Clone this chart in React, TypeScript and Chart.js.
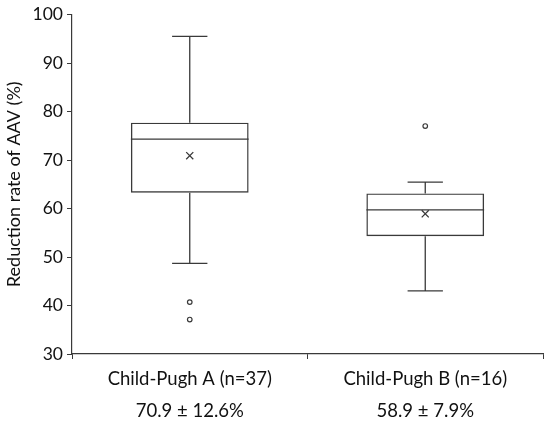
import React, { useEffect, useRef } from "react";
import { Chart, registerables } from "chart.js";

Chart.register(...registerables);

const categories = ["Child-Pugh A (n=37)", "Child-Pugh B (n=16)"];
const subLabels = ["70.9 ± 12.6%", "58.9 ± 7.9%"];
const whiskerLow = [48.7, 43.0];
const q1 = [63.25, 54.3];
const median = [74.3, 59.7];
const q3 = [77.7, 63.1];
const whiskerHigh = [95.5, 65.45];
const means = [70.9, 58.9];
const outliersA = [40.7, 37.1];
const outliersB = [77.0];
const yTicks = [30, 40, 50, 60, 70, 80, 90, 100];

const LINE = "#3a3a3a";
const FONT = "Lato, 'Open Sans', sans-serif";

const boxPlugin = {
  id: "boxWhiskers",
  afterDatasetsDraw(chart: any) {
    const ctx = chart.ctx;
    const x = chart.scales.x;
    const y = chart.scales.y;
    const meta = chart.getDatasetMeta(0);
    ctx.save();
    ctx.strokeStyle = LINE;
    ctx.lineWidth = 1.3;
    categories.forEach((_, i) => {
      const bar = meta.data[i];
      const cx = x.getPixelForValue(i);
      const half = bar.width / 2;
      const capHalf = half * 0.3;
      const pMed = y.getPixelForValue(median[i]);
      const pQ1 = y.getPixelForValue(q1[i]);
      const pQ3 = y.getPixelForValue(q3[i]);
      const pLo = y.getPixelForValue(whiskerLow[i]);
      const pHi = y.getPixelForValue(whiskerHigh[i]);
      ctx.beginPath();
      ctx.moveTo(cx - half, pMed);
      ctx.lineTo(cx + half, pMed);
      ctx.moveTo(cx, pQ3);
      ctx.lineTo(cx, pHi);
      ctx.moveTo(cx - capHalf, pHi);
      ctx.lineTo(cx + capHalf, pHi);
      ctx.moveTo(cx, pQ1);
      ctx.lineTo(cx, pLo);
      ctx.moveTo(cx - capHalf, pLo);
      ctx.lineTo(cx + capHalf, pLo);
      ctx.stroke();
    });
    ctx.restore();
  },
};

export default function App() {
  const ref = useRef<HTMLCanvasElement | null>(null);
  useEffect(() => {
    document.body.style.margin = "0";
    if (!ref.current) return;
    const chart = new Chart(ref.current, {
      type: "bar",
      data: {
        labels: categories,
        datasets: [
          {
            type: "bar",
            data: categories.map((_, i) => [q1[i], q3[i]]) as any,
            backgroundColor: "rgba(255,255,255,0)",
            borderColor: LINE,
            borderWidth: 1.4,
            borderSkipped: false,
            barPercentage: 0.5,
            categoryPercentage: 1,
            order: 2,
          },
          {
            type: "line",
            data: means.map((m, i) => ({ x: categories[i], y: m })) as any,
            showLine: false,
            pointStyle: "crossRot",
            pointRadius: 5,
            pointBorderColor: LINE,
            pointBorderWidth: 1.3,
            order: 1,
          },
          {
            type: "line",
            data: [
              ...outliersA.map((v) => ({ x: categories[0], y: v })),
              ...outliersB.map((v) => ({ x: categories[1], y: v })),
            ] as any,
            showLine: false,
            pointStyle: "circle",
            pointRadius: 2.3,
            pointBackgroundColor: "#fff",
            pointBorderColor: LINE,
            pointBorderWidth: 1.2,
            order: 1,
          },
        ],
      },
      options: {
        animation: false,
        responsive: false,
        maintainAspectRatio: false,
        layout: { padding: { top: 13, right: 7, left: 0, bottom: 0 } },
        plugins: {
          legend: { display: false },
          tooltip: { enabled: false },
        },
        scales: {
          x: {
            type: "category",
            offset: true,
            grid: {
              display: true,
              offset: true,
              drawOnChartArea: false,
              drawTicks: true,
              tickLength: 5,
              color: LINE,
            },
            border: { display: true, color: LINE, width: 1.2 },
            ticks: {
              color: "#111",
              padding: 4,
              font: { family: FONT, size: 18.5, lineHeight: 1.72 },
              maxRotation: 0,
              callback: (_v: any, i: number) => [categories[i], subLabels[i]],
            },
            afterFit: (s: any) => {
              s.height = 69;
            },
          },
          y: {
            min: 30,
            max: 100,
            afterBuildTicks: (s: any) => {
              s.ticks = yTicks.map((v) => ({ value: v }));
            },
            grid: {
              display: true,
              drawOnChartArea: false,
              drawTicks: true,
              tickLength: 5,
              color: LINE,
            },
            border: { display: true, color: LINE, width: 1.2 },
            ticks: {
              color: "#111",
              padding: 4,
              font: { family: FONT, size: 17.5 },
            },
            title: {
              display: true,
              text: "Reduction rate of AAV (%)",
              color: "#111",
              font: { family: FONT, size: 18 },
              padding: { top: 3, bottom: 0 },
            },
            afterFit: (s: any) => {
              s.width = 72;
            },
          },
        },
      },
      plugins: [boxPlugin],
    });
    return () => chart.destroy();
  }, []);
  return (
    <div style={{ width: 550, height: 423, background: "#fff" }}>
      <canvas ref={ref} width={550} height={423} style={{ width: 550, height: 423 }} />
    </div>
  );
}
